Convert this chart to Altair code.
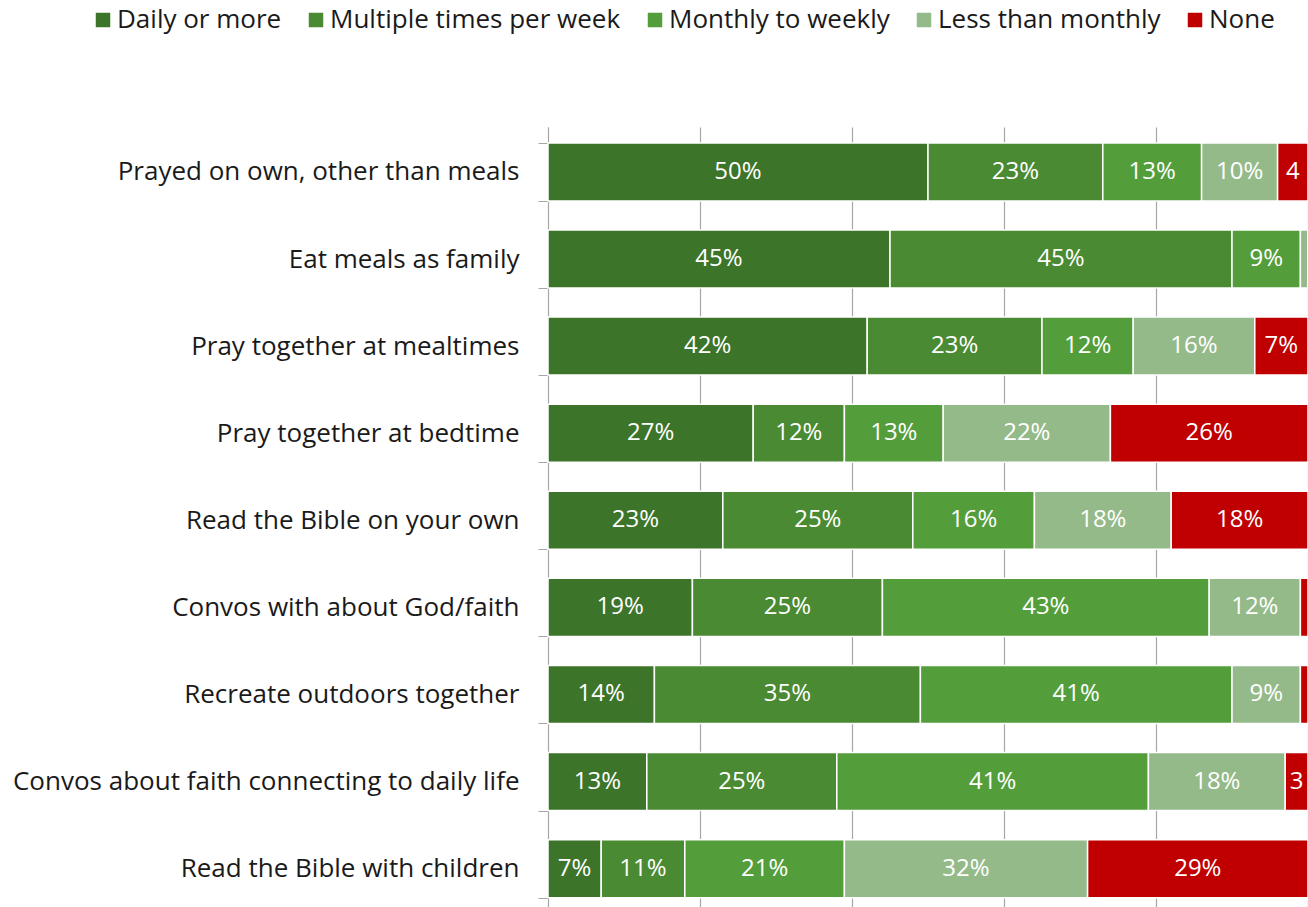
import altair as alt
import pandas as pd

activities = [
    "Prayed on own, other than meals",
    "Eat meals as family",
    "Pray together at mealtimes",
    "Pray together at bedtime",
    "Read the Bible on your own",
    "Convos with about God/faith",
    "Recreate outdoors together",
    "Convos about faith connecting to daily life",
    "Read the Bible with children",
]
categories = ["Daily or more", "Multiple times per week", "Monthly to weekly", "Less than monthly", "None"]
colors = ["#3c7429", "#4a8a32", "#539e3b", "#95ba8a", "#c00000"]

daily = [50, 45, 42, 27, 23, 19, 14, 13, 7]
multiple = [23, 45, 23, 12, 25, 25, 35, 25, 11]
monthly = [13, 9, 12, 13, 16, 43, 41, 41, 21]
less = [10, 1, 16, 22, 18, 12, 9, 18, 32]
none = [4, 0, 7, 26, 18, 1, 1, 3, 29]

series = [daily, multiple, monthly, less, none]

rows = []
for i, act in enumerate(activities):
    start = 0
    for j, cat in enumerate(categories):
        v = series[j][i]
        if v >= 5:
            lab = f"{v}%"
        elif v >= 3:
            lab = f"{v}"
        else:
            lab = ""
        rows.append({"activity": act, "category": cat, "order": j, "value": v,
                     "start": start, "end": start + v, "mid": start + v / 2, "label": lab})
        start += v
df = pd.DataFrame(rows)

FONT = "Open Sans"

y = alt.Y(
    "activity:N",
    sort=activities,
    scale=alt.Scale(paddingInner=0.334, paddingOuter=0.145, align=0.63),
    axis=alt.Axis(title=None, labelFontSize=26, labelPadding=19, tickSize=10,
                  tickBand="extent", domainColor="#a6a6a6", tickColor="#a6a6a6",
                  labelColor="#1a1a1a", labelFont=FONT, labelLimit=700, grid=False),
)
xscale = alt.Scale(domain=[0, 100], nice=False)

bars = alt.Chart(df).mark_bar(stroke="white", strokeWidth=1.5).encode(
    y=y,
    x=alt.X("start:Q", scale=xscale,
            axis=alt.Axis(title=None, labels=False, ticks=False, domain=False, grid=True,
                          values=[0, 20, 40, 60, 80, 100], gridColor="#a6a6a6", gridWidth=1.2)),
    x2="end:Q",
    color=alt.Color("category:N", sort=categories,
                    scale=alt.Scale(domain=categories, range=colors),
                    legend=alt.Legend(title=None, orient="none", direction="horizontal",
                                      legendX=-458, legendY=-120, columns=5,
                                      symbolType="square", symbolSize=210, symbolStrokeWidth=0,
                                      labelFontSize=26, labelFont=FONT, labelColor="#1a1a1a",
                                      labelLimit=600, columnPadding=21, symbolOffset=0,
                                      labelOffset=1)),
    order=alt.Order("order:Q"),
)

text = alt.Chart(df).mark_text(color="white", fontSize=24, font=FONT).encode(
    y=alt.Y("activity:N", sort=activities),
    x=alt.X("mid:Q", scale=xscale),
    text="label:N",
)

chart = alt.layer(bars, text).properties(
    width=760, height=780,
    padding={"left": 548, "top": 127, "right": 0, "bottom": 0},
    autosize=alt.AutoSizeParams(type="none"),
).configure_view(stroke=None)

chart.save("out.html", embed_options={"renderer": "svg", "actions": False})
